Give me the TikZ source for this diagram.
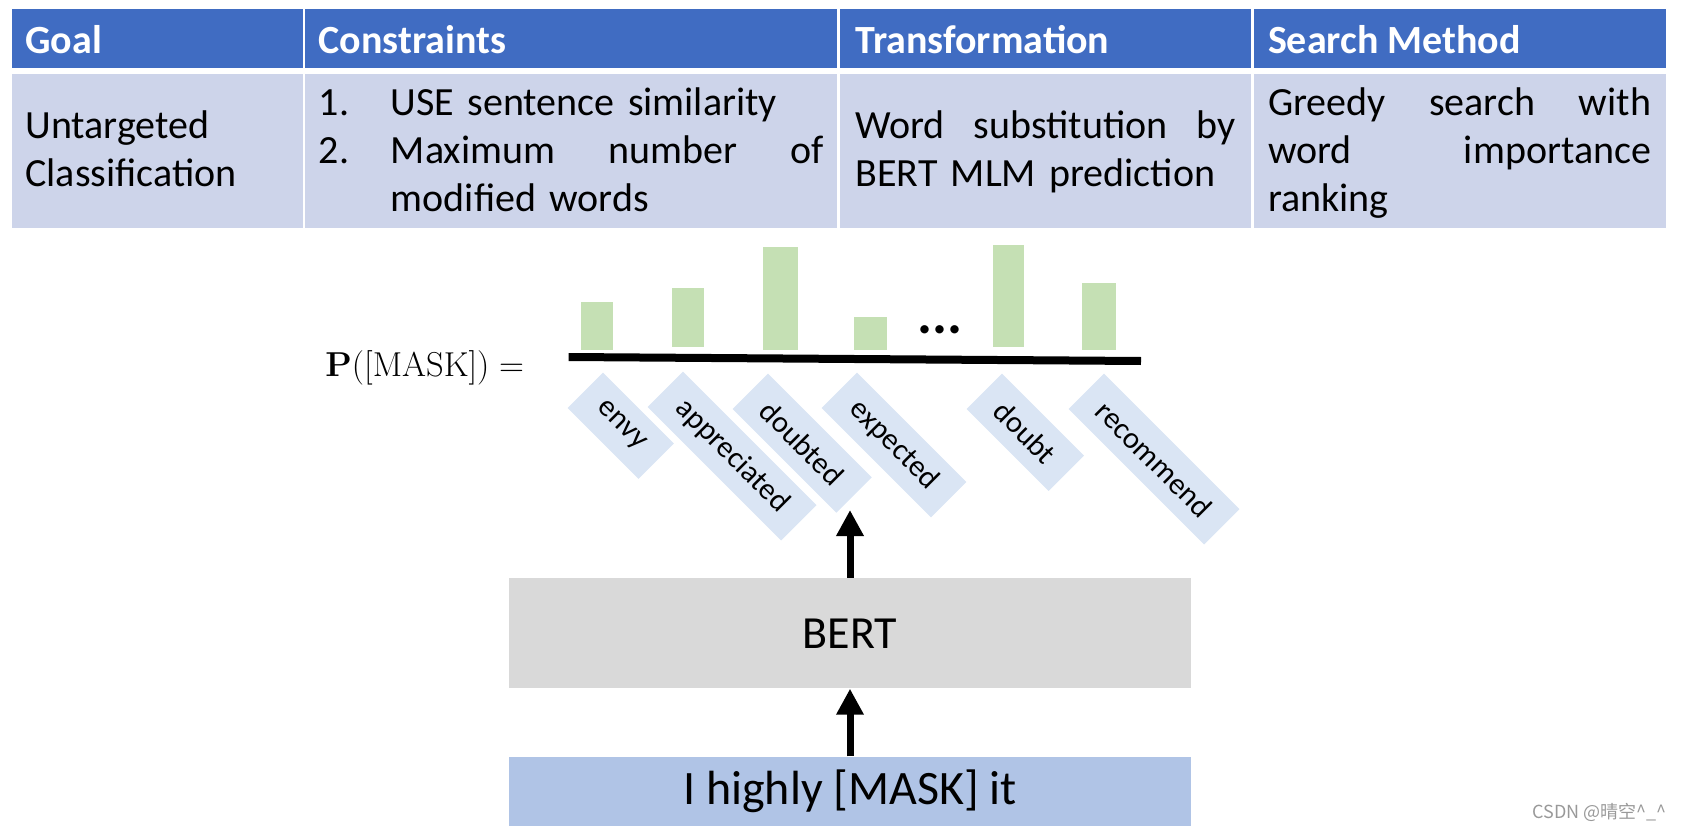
\documentclass[tikz,border=0pt]{standalone}
\usepackage[no-math]{fontspec}
\setmainfont{Carlito}
\newfontfamily\cjk{Noto Sans CJK SC}
\usetikzlibrary{arrows.meta}

\definecolor{headblue}{RGB}{64,108,194}
\definecolor{cellblue}{RGB}{205,212,234}
\definecolor{bargreen}{RGB}{197,224,180}
\definecolor{wordblue}{RGB}{218,229,244}
\definecolor{bertgray}{RGB}{217,217,217}
\definecolor{inputblue}{RGB}{176,196,230}

\begin{document}
\begin{tikzpicture}[x=0.5pt,y=-0.5pt,
  head/.style={anchor=base west, inner sep=0pt, text=white, font=\fontsize{20}{24}\selectfont\bfseries},
  cell/.style={anchor=base west, inner sep=0pt, align=left, font=\fontsize{20}{24.15}\selectfont},
  word/.style={rotate=-45, anchor=north west, fill=wordblue, inner xsep=10.5pt, inner ysep=0pt, minimum height=25pt, font=\fontsize{15.2}{17}\selectfont},
  bar/.style={fill=bargreen},
  arr/.style={line width=3.5pt, -{Triangle[width=13pt,length=13pt]}}]

 \useasboundingbox (0,0) rectangle (1683,830);

% the table: header row, then the row of the attack
 \fill[headblue] (12.3,9.3) rectangle (302.6,67.7);
 \fill[headblue] (305.4,9.3) rectangle (836.9,67.7);
 \fill[headblue] (839.7,9.3) rectangle (1251.1,67.7);
 \fill[headblue] (1253.9,9.3) rectangle (1665.8,67.7);
 \fill[cellblue] (12.3,74) rectangle (302.6,227.7);
 \fill[cellblue] (305.4,74) rectangle (836.9,227.7);
 \fill[cellblue] (839.7,74) rectangle (1251.1,227.7);
 \fill[cellblue] (1253.9,74) rectangle (1665.8,227.7);

 \node[head] (goal) at (25,54) {Goal};
 \node[head] (cons) at (318.3,54) {Constraints};
 \node[head] (trans) at (855,54) {Transformation};
 \node[head] (search) at (1267.6,54) {Search Method};

 \node[cell, text width=135pt] (goaltxt) at (25,138.3) {Untargeted\\Classification};
 \node[cell, text width=252.5pt] (constxt) at (318.5,115) {\makebox[36pt][l]{1.}USE sentence similarity\\\makebox[36pt][l]{2.}Maximum\hfill number\hfill of\\\hspace*{36pt}modified words};
 \node[cell, text width=190pt] (transtxt) at (855,138.3) {Word\hfill substitution\hfill by\\BERT MLM prediction};
 \node[cell, text width=191.5pt] (searchtxt) at (1267.6,115) {Greedy\hfill search\hfill with\\word\hfill importance\\ranking};

% the distribution over the masked word
 \node[anchor=base west, inner sep=0pt, font=\fontsize{16.5}{19}\selectfont] (prob) at (325,376) {$\mathbf{P}([\mathrm{MASK}]) =$};
 \draw[line width=4pt] (568.6,357) -- (1141,361);

 \fill[bar] (581,301.7) rectangle (613,350);
 \fill[bar] (672,287.7) rectangle (703.5,347.3);
 \fill[bar] (763,246.7) rectangle (797.6,350);
 \fill[bar] (854,316.7) rectangle (887,350);
 \fill[bar] (993,245) rectangle (1024,347.3);
 \fill[bar] (1082,283.3) rectangle (1116,350);
 \node[inner sep=0pt, font=\fontsize{28}{28}\selectfont\bfseries] (dots) at (940,330) {...};

 \node[word] (envy) at (603,372) {envy};
 \node[word] (appr) at (683,371) {appreciated};
 \node[word] (doubted) at (768,373) {doubted};
 \node[word] (expected) at (857,372) {expected};
 \node[word] (doubt) at (1002,373) {doubt};
 \node[word] (recom) at (1104,373) {recommend};

% BERT and its input
 \node[fill=bertgray, minimum width=340.7pt, minimum height=55pt, inner sep=0pt, font=\fontsize{23}{27}\selectfont] (bert) at (850,633.3) {BERT};
 \node[fill=inputblue, minimum width=340.7pt, minimum height=34.65pt, inner sep=0pt, font=\fontsize{24}{28}\selectfont] (input) at (850,791.3) {I highly [MASK] it};
 \coordinate (out) at (850,510);

 \draw[arr] (input) -- (bert);
 \draw[arr] (bert) -- (out);

 \node[anchor=base east, inner sep=0pt, text=black!40, font=\cjk\fontsize{9}{10}\selectfont] (mark) at (1667,818) {CSDN @晴空\textasciicircum\_\textasciicircum};
\end{tikzpicture}
\end{document}
